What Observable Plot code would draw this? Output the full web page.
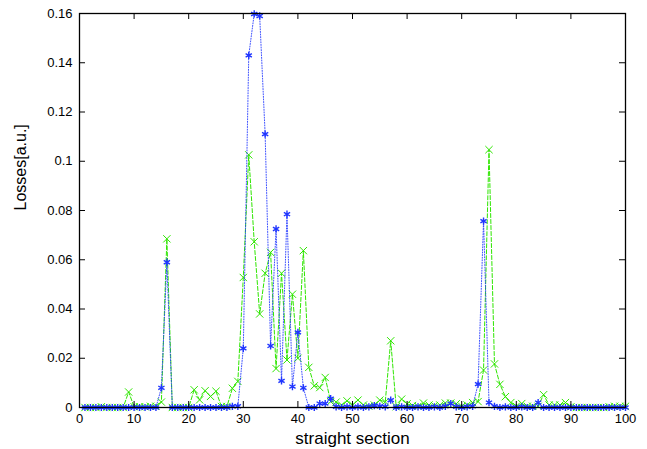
<!DOCTYPE html>
<html><head><meta charset="utf-8">
<script src="https://cdn.jsdelivr.net/npm/d3@7"></script>
<script src="https://cdn.jsdelivr.net/npm/@observablehq/plot@0.6"></script>
<style>html,body{margin:0;padding:0;background:#fff}</style>
</head><body><div id="chart"></div>
<script>
const sections = [1,2,3,4,5,6,7,8,9,10,11,12,13,14,15,16,17,18,19,20,21,22,23,24,25,26,27,28,29,30,31,32,33,34,35,36,37,38,39,40,41,42,43,44,45,46,47,48,49,50,51,52,53,54,55,56,57,58,59,60,61,62,63,64,65,66,67,68,69,70,71,72,73,74,75,76,77,78,79,80,81,82,83,84,85,86,87,88,89,90,91,92,93,94,95,96,97,98,99,100];

// blue asterisks, dotted line
const blueLoss = [
  0,0,0,0,0,0,0,0,0,0,            // 1-10
  0,0,0,0,0.008,0.059,0,0,0,0,    // 11-20
  0,0,0,0,0,0,0,0.0005,0.0005,0.024, // 21-30
  0.143,0.1598,0.159,0.111,0.025,0.0725,0.0108,0.0785,0.0085,0.0305, // 31-40
  0.008,0,0,0.0016,0.0016,0.0036,0.0003,0,0.0003,0, // 41-50
  0.0003,0,0.0003,0.0008,0.0005,0.0003,0.003,0,0.0003,0, // 51-60
  0,0.0003,0,0,0.0003,0,0.0005,0.0016,0.0003,0, // 61-70
  0.0003,0.0005,0.0095,0.0757,0.002,0.0005,0,0.0003,0,0, // 71-80
  0.0003,0,0,0.002,0,0,0,0,0,0,   // 81-90
  0,0,0,0,0,0,0,0,0,0             // 91-100
];

// green crosses, dashed line
const greenLoss = [
  0,0,0,0.0003,0,0,0,0,0.0063,0.0003, // 1-10
  0.0003,0.0003,0.0005,0.0005,0.0022,0.0685,0,0,0,0, // 11-20
  0.0072,0.0031,0.0068,0.0045,0.0066,0.0004,0.0004,0.0078,0.0106,0.0528, // 21-30
  0.1026,0.0673,0.038,0.0545,0.063,0.0158,0.0545,0.0193,0.046,0.020, // 31-40
  0.0637,0.0163,0.0088,0.0081,0.0122,0.0024,0.0022,0.001,0.0027,0.001, // 41-50
  0.003,0.001,0.0005,0.001,0.003,0.0023,0.0271,0.0003,0.0034,0.0015, // 51-60
  0.0008,0.0005,0.0018,0.001,0.0008,0.001,0.0018,0.0018,0.0015,0.0005, // 61-70
  0.001,0.002,0.0024,0.0152,0.1047,0.0177,0.0094,0.0044,0.002,0.0005, // 71-80
  0.0016,0.0005,0.0005,0.0005,0.0052,0.001,0.001,0.001,0.002,0.0003, // 81-90
  0,0,0,0,0,0,0.0003,0.0005,0.0005,0.0005 // 91-100
];

const xTicks = [0,10,20,30,40,50,60,70,80,90,100];
const xTickLabels = ["0","10","20","30","40","50","60","70","80","90","100"];
const yTicks = [0,0.02,0.04,0.06,0.08,0.1,0.12,0.14,0.16];
const yTickLabels = ["0","0.02","0.04","0.06","0.08","0.1","0.12","0.14","0.16"];

const xTitle = "straight section";
const yTitle = "Losses[a.u.]";

const W = 647, H = 449, mL = 79, mR = 22, mT = 13, mB = 42;
const innerW = W - mL - mR, innerH = H - mT - mB;
const tickLen = 6;
const blueColor = "#1f35ff";
const greenColor = "#2ee600";

const blueData = sections.map((s, i) => ({s, v: blueLoss[i]}));
const greenData = sections.map((s, i) => ({s, v: greenLoss[i]}));

const chart = Plot.plot({
  width: W, height: H,
  marginLeft: mL, marginRight: mR, marginTop: mT, marginBottom: mB,
  x: {domain: [0, 100]},
  y: {domain: [0, 0.16]},
  style: {fontFamily: "'Liberation Sans', Arial, Helvetica, sans-serif", fontSize: "13px", background: "#fff", color: "#000"},
  marks: [
    Plot.line(greenData, {x: "s", y: "v", stroke: greenColor, strokeWidth: 1, strokeDasharray: "4,2"}),
    Plot.dot(greenData, {x: "s", y: "v", symbol: "times", r: 3.4, stroke: greenColor, strokeWidth: 1, fill: "none"}),
    Plot.line(blueData, {x: "s", y: "v", stroke: blueColor, strokeWidth: 1, strokeDasharray: "1,1.6", strokeOpacity: 0.85}),
    Plot.dot(blueData, {x: "s", y: "v", symbol: "asterisk", r: 3.4, stroke: blueColor, strokeWidth: 1.4, fill: "none"}),
    Plot.tickX(xTicks, {x: d => d, insetTop: innerH - tickLen, stroke: "#000"}),
    Plot.tickX(xTicks, {x: d => d, insetBottom: innerH - tickLen, stroke: "#000"}),
    Plot.tickY(yTicks, {y: d => d, insetRight: innerW - tickLen, stroke: "#000"}),
    Plot.tickY(yTicks, {y: d => d, insetLeft: innerW - tickLen, stroke: "#000"}),
    Plot.frame({stroke: "#000", strokeWidth: 1.3}),
    Plot.axisX({ticks: xTicks, tickSize: 0, tickPadding: 6, tickFormat: (d, i) => xTickLabels[i], label: null, fontSize: 13}),
    Plot.axisY({ticks: yTicks, tickSize: 0, tickPadding: 7, tickFormat: (d, i) => yTickLabels[i], label: null, fontSize: 13}),
    Plot.text([xTitle], {text: d => d, frameAnchor: "bottom", lineAnchor: "middle", dy: 31, fontSize: 17, fill: "#000"}),
    Plot.text([yTitle], {text: d => d, frameAnchor: "left", lineAnchor: "middle", dx: -59, rotate: -90, fontSize: 16, fill: "#000"})
  ]
});
document.getElementById("chart").appendChild(chart);
</script>
</body></html>
